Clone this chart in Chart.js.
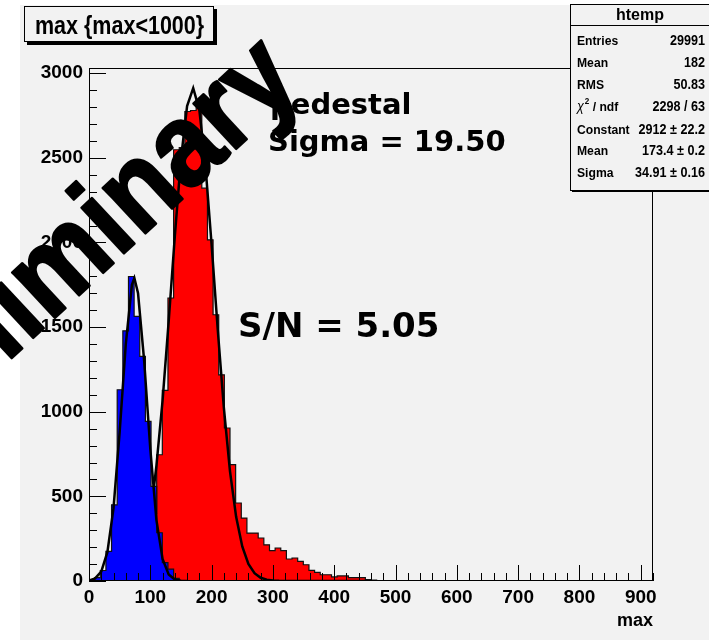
<!DOCTYPE html>
<html>
<head>
<meta charset="utf-8">
<script src="https://cdn.jsdelivr.net/npm/chart.js@4.4.1/dist/chart.umd.min.js"></script>
<style>
  html, body { margin: 0; padding: 0; background: #fff; }
  #wrap { width: 709px; height: 640px; }
</style>
</head>
<body>
<div id="wrap"><canvas id="maxChart" width="709" height="640"></canvas></div>
<script>
// histogram binning for "max"
const binWidth = 9.2;
const xMin = 0, xMax = 920;
const yMin = 0, yMax = 3031;
const xTickValues = [0, 100, 200, 300, 400, 500, 600, 700, 800, 900];
const yTickValues = [0, 500, 1000, 1500, 2000, 2500, 3000];
const xMinorStep = 20, yMinorStep = 100;

// red: signal histogram, counts per bin from 0
const signalCounts = [0, 0, 2, 5, 10, 20, 30, 45, 70, 110,
  190, 400, 746, 1126, 1672, 2548, 2560, 2774, 2780, 2803,
  2321, 2016, 1573, 1218, 904, 687, 461, 372, 283, 283,
  254, 214, 179, 195, 179, 130, 136, 116, 96, 63,
  51, 37, 37, 24, 30, 30, 20, 20, 20, 8,
  5, 3, 2, 2, 1, 1];

// blue: pedestal histogram
const pedestalCounts = [5, 20, 62, 175, 450, 1130, 1478, 1799, 1563, 1327,
  943, 559, 285, 108, 70, 15, 3];

// gaussian fit curves
const pedFitX = [0, 10, 20, 30, 40, 50, 60, 70, 74, 80, 90, 100, 110, 120, 130, 140, 150, 160];
const pedFitY = [3, 15, 55, 170, 430, 880, 1400, 1750, 1790, 1700, 1300, 780, 360, 130, 38, 9, 2, 0];

const sigFitX = [106, 110, 120, 130, 140, 150, 160, 170, 180, 190, 200, 210, 220, 230,
  240, 250, 260, 270, 280, 290, 300, 310, 325, 360, 400, 455];
const sigFitY = [557, 682, 1066, 1535, 2038, 2492, 2806, 2912, 2784, 2451, 1988, 1486, 1023, 648,
  379, 204, 101, 46, 19, 8, 3, 1, 0, 0, 0, 0];

// stats box
const statTitle = 'htemp';
const statLabels = ['Entries', 'Mean', 'RMS', 'chi2', 'Constant', 'Mean', 'Sigma'];
const statValues = ['29991', '182', '50.83', '2298 / 63', '2912 \u00b1 22.2', '173.4 \u00b1 0.2', '34.91 \u00b1 0.16'];

const histTitle = 'max {max<1000}';
const pedestalText = ['pedestal', 'Sigma = 19.50'];
const snText = 'S/N = 5.05';
const watermark = 'Preliminary';

const FONT = '"Liberation Sans", Arial, sans-serif';

function histPoints(counts) {
  const pts = [{x: xMin, y: 0}];
  counts.forEach((c, i) => pts.push({x: i * binWidth, y: c}));
  pts.push({x: counts.length * binWidth, y: 0});
  pts.push({x: xMax, y: 0});
  return pts;
}

function squeeze(ctx, text, x, y, sx, align) {
  ctx.save();
  ctx.translate(x, y);
  ctx.scale(sx, 1);
  ctx.textAlign = align || 'left';
  ctx.fillText(text, 0, 0);
  ctx.restore();
}

const rootLook = {
  id: 'rootLook',
  beforeDraw(chart) {
    const ctx = chart.ctx;
    ctx.save();
    ctx.fillStyle = '#ffffff';
    ctx.fillRect(0, 0, chart.width, chart.height);
    ctx.fillStyle = '#f2f2f2';
    ctx.fillRect(20, 5, chart.width - 20, chart.height - 5);
    ctx.restore();
  },
  afterDatasetsDraw(chart) {
    const {ctx, chartArea: a, scales: {x, y}} = chart;
    ctx.save();
    ctx.strokeStyle = '#000';
    ctx.lineWidth = 1;
    ctx.beginPath();
    for (let v = xMin; v <= xMax; v += xMinorStep) {
      const px = Math.round(x.getPixelForValue(v)) + 0.5;
      const len = xTickValues.includes(v) ? 16 : 8;
      ctx.moveTo(px, a.bottom);
      ctx.lineTo(px, a.bottom - len);
    }
    for (let v = yMin; v <= 3000; v += yMinorStep) {
      const py = Math.round(y.getPixelForValue(v)) + 0.5;
      const len = yTickValues.includes(v) ? 17 : 8;
      ctx.moveTo(a.left, py);
      ctx.lineTo(a.left + len, py);
    }
    ctx.stroke();
    ctx.strokeRect(Math.round(a.left) + 0.5, Math.round(a.top) + 0.5,
      Math.round(a.width) - 1, Math.round(a.height) - 1);
    ctx.restore();
  },
  afterDraw(chart) {
    const ctx = chart.ctx;
    ctx.save();

    // title box
    ctx.fillStyle = '#000';
    ctx.fillRect(27, 9, 190, 36);
    ctx.fillStyle = '#f2f2f2';
    ctx.fillRect(24, 6, 190, 36);
    ctx.strokeStyle = '#000';
    ctx.lineWidth = 1;
    ctx.strokeRect(24.5, 6.5, 189, 35);
    ctx.fillStyle = '#000';
    ctx.font = 'bold 25px ' + FONT;
    ctx.textBaseline = 'alphabetic';
    squeeze(ctx, histTitle, 35, 34, 0.86);

    // annotations
    ctx.font = 'bold 29px "DejaVu Sans", Verdana, sans-serif';
    ctx.fillText(pedestalText[0], 270, 114);
    ctx.fillText(pedestalText[1], 268, 151);
    ctx.font = 'bold 34px "DejaVu Sans", Verdana, sans-serif';
    ctx.fillText(snText, 238, 337);

    // watermark
    ctx.save();
    ctx.translate(-119, 480);
    ctx.rotate(-43 * Math.PI / 180);
    ctx.scale(0.9, 1);
    ctx.font = 'bold 118px ' + FONT;
    ctx.lineWidth = 2.5;
    ctx.lineJoin = 'round';
    ctx.fillText(watermark, 0, 0);
    ctx.strokeText(watermark, 0, 0);
    ctx.restore();
    ctx.lineWidth = 1;

    // stats box
    const bx = 570, by = 4, bw = 140, bh = 186;
    ctx.fillStyle = '#000';
    ctx.fillRect(bx + 2, by + bh, bw, 2);
    ctx.fillStyle = '#f2f2f2';
    ctx.fillRect(bx, by, bw, bh);
    ctx.strokeRect(bx + 0.5, by + 0.5, bw, bh);
    ctx.beginPath();
    ctx.moveTo(bx, 25.5);
    ctx.lineTo(bx + bw, 25.5);
    ctx.stroke();
    ctx.fillStyle = '#000';
    ctx.textBaseline = 'middle';
    ctx.font = 'bold 16px ' + FONT;
    ctx.textAlign = 'center';
    ctx.fillText(statTitle, 640, 16);
    ctx.textAlign = 'left';
    const rowY = [41.5, 63.5, 85, 107, 130, 151.5, 173.5];
    statLabels.forEach((lab, i) => {
      ctx.font = 'bold 13.5px ' + FONT;
      if (lab === 'chi2') {
        ctx.save();
        ctx.translate(577, rowY[i]);
        ctx.scale(0.9, 1);
        ctx.font = 'italic 14px ' + FONT;
        ctx.fillText('\u03c7', 0, 0);
        const w = ctx.measureText('\u03c7').width;
        ctx.font = 'bold 9px ' + FONT;
        ctx.fillText('2', w + 1, -5);
        ctx.font = 'bold 13.5px ' + FONT;
        ctx.fillText(' / ndf', w + 6, 0);
        ctx.restore();
      } else {
        squeeze(ctx, lab, 577, rowY[i], 0.9);
      }
      ctx.font = 'bold 14px ' + FONT;
      squeeze(ctx, statValues[i], 705, rowY[i], 0.9, 'right');
    });
    ctx.restore();
  }
};

const ctx = document.getElementById('maxChart').getContext('2d');
new Chart(ctx, {
  type: 'line',
  data: {
    datasets: [
      {
        label: 'pedestal fit',
        data: pedFitX.map((x, i) => ({x: x, y: pedFitY[i]})),
        borderColor: '#000', borderWidth: 2.5, pointRadius: 0, fill: false, order: 0
      },
      {
        label: 'signal fit',
        data: sigFitX.map((x, i) => ({x: x, y: sigFitY[i]})),
        borderColor: '#000', borderWidth: 2.5, pointRadius: 0, fill: false, order: 0
      },
      {
        label: 'pedestal',
        data: histPoints(pedestalCounts),
        stepped: true, fill: 'origin', backgroundColor: '#0000ff',
        borderColor: '#111', borderWidth: 1.2, pointRadius: 0, order: 1
      },
      {
        label: 'max',
        data: histPoints(signalCounts),
        stepped: true, fill: 'origin', backgroundColor: '#ff0000',
        borderColor: '#111', borderWidth: 1.2, pointRadius: 0, order: 2
      }
    ]
  },
  options: {
    responsive: false,
    animation: false,
    layout: { padding: { top: 68, right: 56, left: 0, bottom: 0 } },
    plugins: { legend: { display: false }, tooltip: { enabled: false } },
    scales: {
      x: {
        type: 'linear', min: xMin, max: xMax,
        afterFit: (s) => { s.height = 59; },
        afterBuildTicks: (s) => { s.ticks = xTickValues.map(v => ({value: v})); },
        grid: { display: false, drawTicks: false },
        border: { display: false },
        ticks: {
          autoSkip: false, maxRotation: 0,
          padding: 5, color: '#000',
          callback: (v) => String(v),
          font: { family: FONT, weight: 'bold', size: 19 }
        },
        title: {
          display: true, text: 'max', align: 'end', color: '#000',
          font: { family: FONT, weight: 'bold', size: 18 },
          padding: { top: 0, bottom: 8 }
        }
      },
      y: {
        type: 'linear', min: yMin, max: yMax,
        afterFit: (s) => { s.width = 89; },
        afterBuildTicks: (s) => { s.ticks = yTickValues.map(v => ({value: v})); },
        grid: { display: false, drawTicks: false },
        border: { display: false },
        ticks: {
          autoSkip: false, padding: 6, color: '#000',
          callback: (v) => String(v),
          font: { family: FONT, weight: 'bold', size: 19 }
        }
      }
    }
  },
  plugins: [rootLook]
});
</script>
</body>
</html>
